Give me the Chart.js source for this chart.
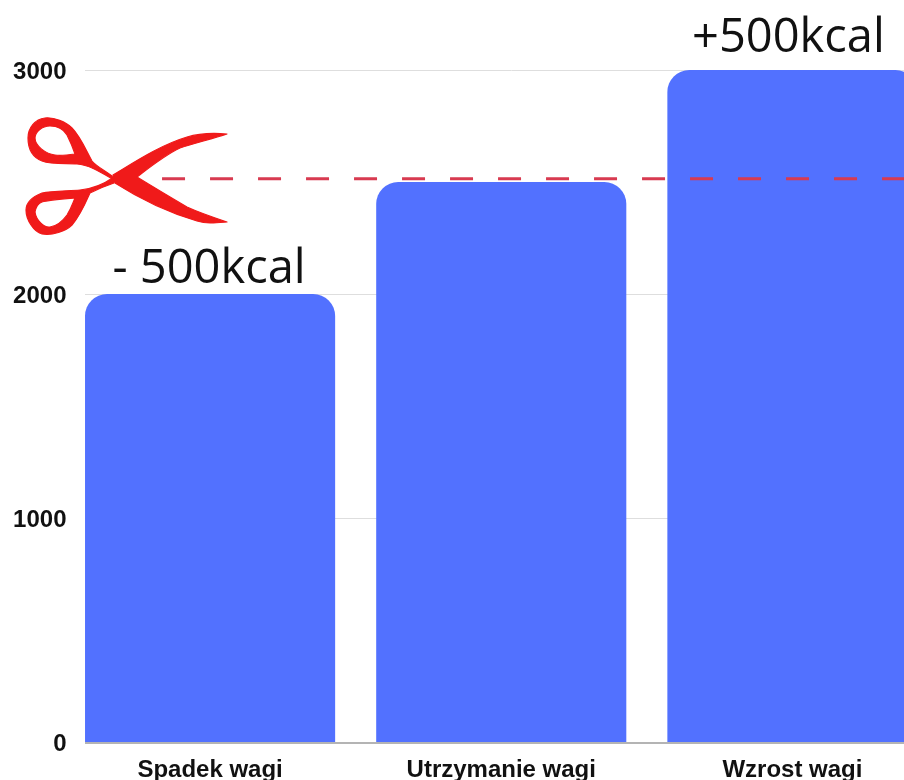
<!DOCTYPE html>
<html>
<head>
<meta charset="utf-8">
<style>
    html, body { margin: 0; padding: 0; background: #fff; overflow: hidden; }
    #chart { display: block; }
</style>
<script src="https://cdn.jsdelivr.net/npm/chart.js@4"></script>
</head>
<body>
<canvas id="chart" width="938" height="780"></canvas>
<script>
const categories = ['Spadek wagi', 'Utrzymanie wagi', 'Wzrost wagi'];
const kcalValues = [2000, 2500, 3000];
const kcalNotes = ['- 500kcal', '', '+500kcal'];
const cutLineX = [-0.165, 2.5];
const cutLineY = [2515, 2515];

// kreski siatki zaczynaja sie przy pierwszym slupku, wiec rysuje je tutaj
const gridPlugin = {
    id: 'gridFromBar',
    afterLayout(chart) {
        // etykiety osi y wchodza troche na obszar wykresu
        chart.scales.y.right = 66.5;
    },
    beforeDatasetsDraw(chart) {
        const { ctx, scales } = chart;
        const bar = chart.getDatasetMeta(1).data[0];
        const barLeft = bar.x - bar.width / 2;
        ctx.save();
        ctx.strokeStyle = '#dedede';
        ctx.lineWidth = 1;
        scales.y.ticks.forEach(tick => {
            if (tick.value === 0) return;
            const y = Math.round(scales.y.getPixelForValue(tick.value)) + 0.5;
            ctx.beginPath();
            ctx.moveTo(barLeft, y);
            ctx.lineTo(chart.width, y);
            ctx.stroke();
        });
        ctx.strokeStyle = '#b4b4b4';
        ctx.lineWidth = 2;
        ctx.beginPath();
        ctx.moveTo(barLeft, scales.y.bottom + 1);
        ctx.lineTo(chart.width, scales.y.bottom + 1);
        ctx.stroke();
        ctx.restore();
    },
};

const notesPlugin = {
    id: 'kcalNotes',
    afterDatasetsDraw(chart) {
        const { ctx, scales } = chart;
        ctx.save();
        ctx.font = '47px "Open Sans"';
        ctx.fillStyle = '#111';
        ctx.textAlign = 'center';
        ctx.textBaseline = 'alphabetic';
        kcalNotes.forEach((note, i) => {
            if (!note) return;
            const x = scales.x.getPixelForValue(i) - (i === 2 ? 4 : 1);
            const gap = i === 2 ? 18 : 11;
            ctx.fillText(note, x, scales.y.getPixelForValue(kcalValues[i]) - gap);
        });
        ctx.restore();
    },
};

const scissorsParts = [
    // ostrza
    'M113 175 C133 163 160 145 187 137 C200 133 215 133 227 134 C212 139 195 143 180 148 C165 155 150 167 137 177 ' +
    'C150 185 170 197 187 207 C200 213 215 218 227 222 C215 223 207 224 197 221 C170 213 140 199 115 183 Z',
    // gorny uchwyt
    'M112 176 C104 170 96 166 92 161 C86 150 80 136 72 128 C66 122 54 117 45 118 C35 119 28 128 28 138 C28 148 32 157 42 161 C52 165 68 163 77 164 C90 165 102 173 114 180 Z ' +
    'M50 126 C58 126 64 130 67 135 C70 141 73 148 75 154 C68 155 60 156 55 155 C46 154 35 146 35 138 C35 132 42 126 50 126 Z',
    // dolny uchwyt
    'M114 183 C105 186 96 190 90 193 C86 202 80 216 72 225 C66 231 52 236 42 234 C34 232 26 220 26 210 C26 203 32 197 42 193 C52 191 68 191 80 190 C92 189 104 184 114 177 Z ' +
    'M75 198 C72 205 71 209 67 215 C62 222 56 226 50 227 C44 228 36 220 35 212 C36 207 39 203 42 202 C48 200 62 199 75 198 Z',
];

const scissorsPlugin = {
    id: 'scissors',
    afterDatasetsDraw(chart) {
        const ctx = chart.ctx;
        ctx.save();
        ctx.fillStyle = '#f01a1a';
        ctx.strokeStyle = '#f01a1a';
        ctx.lineWidth = 1.2;
        ctx.lineJoin = 'round';
        scissorsParts.forEach(part => {
            const shape = new Path2D(part);
            ctx.fill(shape, 'evenodd');
            ctx.stroke(shape);
        });
        ctx.restore();
    },
};

new Chart(document.getElementById('chart').getContext('2d'), {
    data: {
        labels: categories,
        datasets: [
            {
                type: 'line',
                data: cutLineX.map((x, i) => ({ x: x, y: cutLineY[i] })),
                xAxisID: 'x2',
                borderColor: '#d83a50',
                borderWidth: 3,
                borderDash: [23, 25],
                pointRadius: 0,
                order: 0,
            },
            {
                type: 'bar',
                data: kcalValues,
                xAxisID: 'x',
                grouped: false,
                backgroundColor: '#5271ff',
                categoryPercentage: 1,
                barPercentage: 0.859,
                borderRadius: { topLeft: 22, topRight: 22 },
                borderSkipped: 'bottom',
                order: 1,
            },
        ],
    },
    options: {
        responsive: false,
        animation: false,
        layout: { padding: { top: 70, right: 0, bottom: 0, left: 0 } },
        plugins: { legend: { display: false }, tooltip: { enabled: false } },
        scales: {
            x: {
                offset: true,
                grid: { display: false, drawTicks: false },
                border: { display: false },
                ticks: {
                    color: '#111',
                    padding: 14,
                    maxRotation: 0,
                    font: { family: '"Liberation Sans"', size: 24, weight: 'bold' },
                },
                afterFit: scale => { scale.height = 38; },
            },
            x2: { type: 'linear', display: false, min: -0.5, max: 2.5 },
            y: {
                min: 0,
                max: 3000,
                grid: { display: false, drawTicks: false },
                border: { display: false },
                ticks: {
                    stepSize: 1000,
                    color: '#111',
                    padding: 0,
                    labelOffset: 2,
                    callback: value => String(value),
                    font: { family: '"Liberation Sans"', size: 24, weight: 'bold' },
                },
                afterFit: scale => { scale.width = 64.5; },
            },
        },
    },
    plugins: [gridPlugin, notesPlugin, scissorsPlugin],
});
</script>
</body>
</html>
